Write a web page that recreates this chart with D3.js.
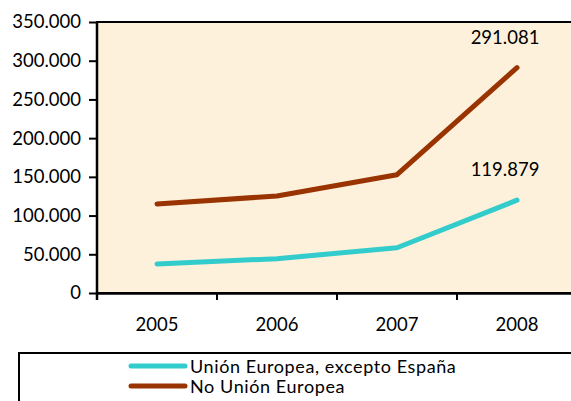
<!DOCTYPE html>
<html><head><meta charset="utf-8">
<script src="https://cdn.jsdelivr.net/npm/d3@7"></script>
<style>
html,body{margin:0;padding:0;background:#fff;overflow:hidden}
text{font-family:Lato,"Open Sans",sans-serif;fill:#000}
</style></head>
<body>
<svg id="c" width="571" height="401"></svg>
<script>
const years = ["2005","2006","2007","2008"];
const ueValues = [37500, 44300, 58500, 119879];
const noUeValues = [115000, 125300, 152800, 291081];
const yTicks = [0,50000,100000,150000,200000,250000,300000,350000];
const seriesNames = ["Unión Europea, excepto España","No Unión Europea"];
const seriesColors = ["#33CCCC","#993300"];
const labelTexts = ["119.879","291.081"];

const svg = d3.select("#c");
const L=97, T=22, B=293, R=577;
const x = d3.scaleBand().domain(years).range([L,R]).padding(0);
const y = d3.scaleLinear().domain([0,350000]).range([B,T]);

svg.append("rect").attr("x",L).attr("y",T).attr("width",R-L).attr("height",B-T)
  .attr("fill","#FDF1DB").attr("stroke","#000").attr("stroke-width",2);

const fmt = d => d===0 ? "0" : d3.format(",")(d).replace(/,/g,".");

const yAxis = svg.append("g").attr("transform",`translate(${L},0)`)
  .call(d3.axisLeft(y).tickValues(yTicks).tickFormat(fmt).tickSize(8).tickPadding(8));
yAxis.select(".domain").attr("stroke-width",2.5).attr("d",`M0,${T}V${B+7}`);
yAxis.selectAll(".tick line").attr("stroke-width",2);
yAxis.selectAll(".tick text").attr("font-size",18.5).attr("font-family","Lato");

const xAxis = svg.append("g").attr("transform",`translate(0,${B})`)
  .call(d3.axisBottom(x).tickSize(0).tickPadding(25));
xAxis.select(".domain").attr("stroke-width",2.5);
xAxis.selectAll(".tick text").attr("font-size",18.5).attr("font-family","Lato");
xAxis.selectAll(".bt").data(years.slice(1)).enter().append("line").attr("class","bt")
  .attr("x1",d=>x(d)).attr("x2",d=>x(d)).attr("y1",0).attr("y2",7)
  .attr("stroke","#000").attr("stroke-width",2);

const line = d3.line().x((d,i)=>x(years[i])+x.bandwidth()/2).y(d=>y(d));
[ueValues,noUeValues].forEach((vals,k)=>{
  svg.append("path").attr("d",line(vals)).attr("fill","none")
    .attr("stroke",seriesColors[k]).attr("stroke-width",5)
    .attr("stroke-linecap","round").attr("stroke-linejoin","round");
});

[ueValues,noUeValues].forEach((vals,k)=>{
  const i = vals.length-1;
  svg.append("text").attr("x",x(years[i])+x.bandwidth()/2-12).attr("y",y(vals[i])-24)
    .attr("text-anchor","middle").attr("font-size",18.5).text(labelTexts[k]);
});

svg.append("rect").attr("x",19).attr("y",353).attr("width",600).attr("height",100)
  .attr("fill","#fff").attr("stroke","#000").attr("stroke-width",2);
seriesNames.forEach((n,k)=>{
  const yy = 366 + k*20;
  svg.append("line").attr("x1",131).attr("x2",185).attr("y1",yy).attr("y2",yy)
    .attr("stroke",seriesColors[k]).attr("stroke-width",5).attr("stroke-linecap","round");
  svg.append("text").attr("x",190).attr("y",yy+7).attr("font-size",18)
    .attr("letter-spacing",0.6).text(n);
});
</script>
</body></html>
